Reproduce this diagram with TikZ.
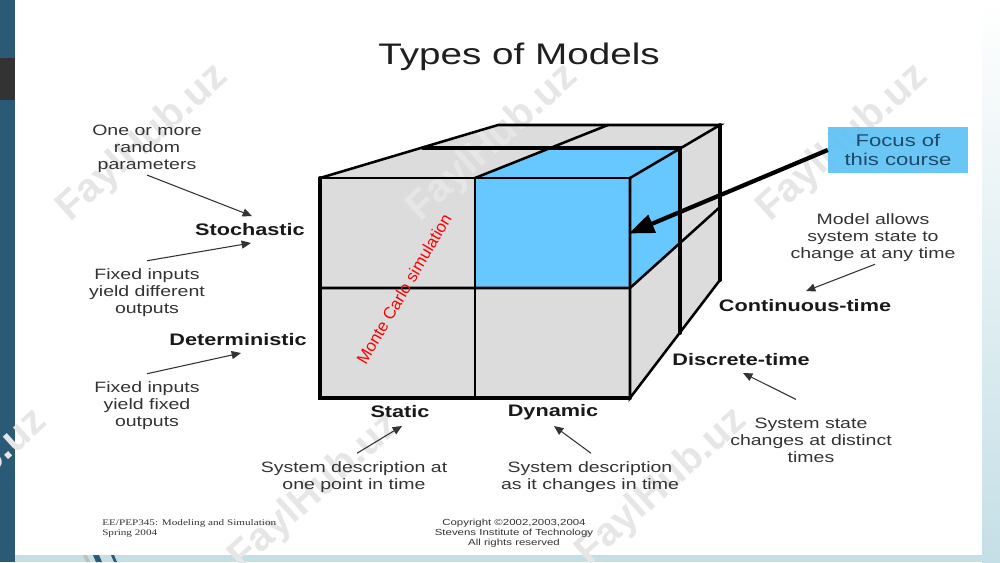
\documentclass[tikz,border=0pt]{standalone}
\usepackage{fontspec}
\setmainfont{Liberation Sans}[FakeStretch=1.3]
\newfontfamily\plainsans{Liberation Sans}
\newfontfamily\footserif{Liberation Serif}[FakeStretch=1.3]
\usetikzlibrary{arrows.meta}
\definecolor{stripblue}{HTML}{2A5A75}
\definecolor{stripdark}{HTML}{333333}
\definecolor{paleblue}{HTML}{C5DFE6}
\definecolor{cubegray}{HTML}{DCDCDC}
\definecolor{cubeblue}{HTML}{66C8FF}
\definecolor{boxblue}{HTML}{5EC2F5}
\definecolor{wmgray}{HTML}{E6E6E6}
\definecolor{bodytext}{HTML}{333333}
\definecolor{focustext}{HTML}{1F4A68}
\tikzset{
  x=0.75pt,y=-0.75pt,
  bodylabel/.style={align=center,inner sep=0pt,text=bodytext,font=\fontsize{11.25}{12.75}\selectfont},
  boldlabel/.style={inner sep=0pt,text=black!90,font=\fontsize{12.5}{14}\selectfont\bfseries},
  footlabel/.style={align=left,inner sep=0pt,text=bodytext,font=\footserif\fontsize{6.45}{7.6}\selectfont},
  copylabel/.style={align=center,inner sep=0pt,text=bodytext,font=\fontsize{6.6}{7.4}\selectfont},
  watermark/.style={inner sep=0pt,rotate=42,text=wmgray,font=\plainsans\bfseries\fontsize{30}{30}\selectfont},
  thinarrow/.style={draw=bodytext,line width=0.8pt,-{Triangle[length=7pt,width=6pt]}},
  thickarrow/.style={draw=black,line width=3.2pt,-{Triangle[length=19pt,width=14pt]},shorten >=-1pt},
  faceline/.style={draw=black,line width=1.9pt,line cap=round,line join=miter},
  heavyline/.style={draw=black,line width=2.9pt,line cap=round,line join=miter}
}
\begin{document}
\begin{tikzpicture}
\useasboundingbox (0,0) rectangle (1000,562);
% slide background
\fill[white] (0,0) rectangle (1000,562);
\shade[top color=white,bottom color=paleblue] (982,0) rectangle (1000,562);
\fill[paleblue] (15,555) rectangle (982,562);
\fill[stripblue] (0,0) rectangle (15,562);
\fill[stripdark] (0,58) rectangle (15,100);
% streaks in the lower band
\fill[black!25] (83,555) -- (87,555) -- (90,562) -- (86,562) -- cycle;
\fill[stripblue] (93,555) -- (99,555) -- (102,562) -- (96,562) -- cycle;
\fill[stripblue] (111,555) -- (114,555) -- (117,562) -- (114,562) -- cycle;
% cube corners
\coordinate (ftl) at (320,178);
\coordinate (ftm) at (475,178);
\coordinate (ftr) at (630,178);
\coordinate (fml) at (320,288);
\coordinate (fmm) at (475,288);
\coordinate (fmr) at (630,288);
\coordinate (fbl) at (320,398);
\coordinate (fbm) at (475,398);
\coordinate (fbr) at (630,398);
\coordinate (btl) at (498,125);
\coordinate (btm) at (608,125);
\coordinate (btr) at (720,125);
\coordinate (bmr) at (720,207);
\coordinate (bbr) at (720,280);
\coordinate (stl) at (423,148);
\coordinate (stm) at (550,148);
\coordinate (str) at (680,148);
\coordinate (smr) at (680,243);
\coordinate (sbr) at (680,333);
% faces
\fill[cubegray] (ftl) -- (btl) -- (btr) -- (bbr) -- (fbr) -- (fbl) -- cycle;
\fill[cubeblue] (ftm) rectangle (fmr);
\fill[cubeblue] (ftm) -- (stm) -- (str) -- (ftr) -- cycle;
\fill[cubeblue] (ftr) -- (str) -- (smr) -- (fmr) -- cycle;
% watermarks
\node[watermark] (wma) at (143,143) {FaylHub.uz};
\node[watermark] (wmb) at (493,143) {FaylHub.uz};
\node[watermark] (wmc) at (843,143) {FaylHub.uz};
\node[watermark] (wmd) at (-38,488) {FaylHub.uz};
\node[watermark] (wme) at (315,492) {FaylHub.uz};
\node[watermark] (wmf) at (662,487) {FaylHub.uz};
% cube edges
\draw[faceline] (ftl) -- (btl) -- (btr) -- (ftr);
\draw[faceline] (ftm) -- (btm);
\draw[faceline] (ftl) -- (ftr);
\draw[faceline] (ftm) -- (fbm);
\draw[faceline] (fml) -- (fmr) -- (bmr);
\draw[faceline] (ftr) -- (fbr) -- (bbr);
\draw[heavyline] (stl) -- (str) -- (sbr);
\draw[heavyline] (btr) -- (bbr);
\draw[heavyline] (ftl) -- (fbl) -- (fbr);
% title
\node[inner sep=0pt,text=black!88,font=\fontsize{22.3}{26}\selectfont] (title) at (519,57) {Types of Models};
% focus box and Monte Carlo text
\node[fill=boxblue,fill opacity=0.92,text opacity=1,text=focustext,align=center,inner sep=0pt,minimum width=105pt,minimum height=34.5pt,font=\fontsize{12.75}{14.3}\selectfont] (focus) at (898,150) {Focus of\\this course};
\node[inner sep=0pt,rotate=59.5,text=red,font=\plainsans\fontsize{12.5}{14}\selectfont] (monte) at (404,289) {Monte Carlo simulation};
% axis labels
\node[boldlabel] (stochastic) at (250,230) {Stochastic};
\node[boldlabel] (deterministic) at (238,340) {Deterministic};
\node[boldlabel] (static) at (400,412) {Static};
\node[boldlabel] (dynamic) at (553,412) {Dynamic};
\node[boldlabel] (continuous) at (805,306) {Continuous-time};
\node[boldlabel] (discrete) at (741,360) {Discrete-time};
% descriptions
\node[bodylabel] (random) at (147,149) {One or more\\random\\parameters};
\node[bodylabel] (different) at (147,293) {Fixed inputs\\yield different\\outputs};
\node[bodylabel] (fixed) at (147,406) {Fixed inputs\\yield fixed\\outputs};
\node[bodylabel] (onepoint) at (354,477) {System description at\\one point in time};
\node[bodylabel] (changes) at (590,477) {System description\\as it changes in time};
\node[bodylabel] (anytime) at (873,238) {Model allows\\system state to\\change at any time};
\node[bodylabel] (distinct) at (811,440) {System state\\changes at distinct\\times};
% footer
\node[footlabel,anchor=north west] (course) at (102,519) {EE/PEP345: Modeling and Simulation\\Spring 2004};
\node[copylabel] (copyright) at (514,533) {Copyright \textcopyright2002,2003,2004\\Stevens Institute of Technology\\All rights reserved};
% arrow tips
\coordinate (tipstoa) at (252,216);
\coordinate (tipstob) at (251,243);
\coordinate (tipdet) at (241,353);
\coordinate (tipstatic) at (402,426);
\coordinate (tipdyn) at (554,426);
\coordinate (tipcont) at (806,291);
\coordinate (tipdisc) at (743,373);
\coordinate (tipfocus) at (630,233);
% connectors
\draw[thinarrow] (random.south) ++(0,2) -- (tipstoa);
\draw[thinarrow] (different.north) ++(0,-8) -- (tipstob);
\draw[thinarrow] (fixed.north) ++(0,-8) -- (tipdet);
\draw[thinarrow] (onepoint.north) ++(3,-8) -- (tipstatic);
\draw[thinarrow] (changes.north) ++(1,-8) -- (tipdyn);
\draw[thinarrow] (anytime.south) ++(2,2) -- (tipcont);
\draw[thinarrow] (distinct.north) ++(-15,-18) -- (tipdisc);
\draw[thickarrow] (focus.west) -- (tipfocus);
\end{tikzpicture}
\end{document}
